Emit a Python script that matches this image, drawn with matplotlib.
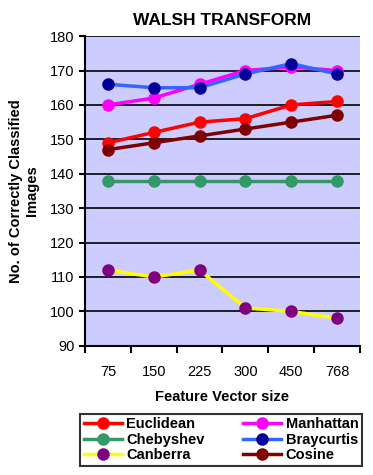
import matplotlib
matplotlib.use("Agg")
import matplotlib.pyplot as plt

plt.rcParams['font.family'] = ['Liberation Sans', 'DejaVu Sans']

categories = ["75", "150", "225", "300", "450", "768"]
euclidean = [149, 152, 155, 156, 160, 161]
manhattan = [160, 162, 166, 170, 171, 170]
chebyshev = [138, 138, 138, 138, 138, 138]
braycurtis = [166, 165, 165, 169, 172, 169]
canberra = [112, 110, 112, 101, 100, 98]
cosine = [147, 149, 151, 153, 155, 157]

series = [
    ("Euclidean", euclidean, "#FF0000", "#FF0000"),
    ("Manhattan", manhattan, "#FF00FF", "#FF00FF"),
    ("Chebyshev", chebyshev, "#339966", "#339966"),
    ("Braycurtis", braycurtis, "#3366FF", "#000099"),
    ("Canberra", canberra, "#FFFF00", "#800080"),
    ("Cosine", cosine, "#800000", "#800000"),
]

fig = plt.figure(figsize=(3.73, 4.75), dpi=100)
ax = fig.add_axes([0.228, 0.272, 0.737, 0.652])
ax.set_facecolor("#CCCCFF")
x = list(range(len(categories)))
handles = []
for name, vals, lc, mc in series:
    h, = ax.plot(x, vals, color=lc, lw=2.5, marker="o", markersize=8,
                 markerfacecolor=mc, markeredgecolor=mc, label=name, zorder=3)
    handles.append(h)

ax.set_ylim(90, 180)
ax.set_yticks(range(90, 181, 10))
ax.set_xlim(-0.5, 5.5)
ax.set_xticks([i - 0.5 for i in range(7)], minor=False)
ax.set_xticklabels([])
ax.set_xticks(x, minor=True)
ax.set_xticklabels(categories, minor=True, fontsize=10.5)
ax.tick_params(axis='x', which='minor', length=0, pad=14)
ax.tick_params(axis='x', which='major', length=5, width=1.5, direction='out')
ax.tick_params(axis='y', length=4, width=1.5, labelsize=10.5)
ax.yaxis.grid(True, color='black', lw=1.2)
ax.set_axisbelow(True)
for s in ['top', 'right']:
    ax.spines[s].set_visible(False)
ax.spines['left'].set_linewidth(1.5)
ax.spines['bottom'].set_linewidth(1.5)

ax.set_title("WALSH TRANSFORM", fontsize=12.5, fontweight='bold', pad=8)
ax.set_xlabel("Feature Vector size", fontsize=10.5, fontweight='bold', labelpad=8)
ax.set_ylabel("No. of Correctly Classified\nImages", fontsize=10.5, fontweight='bold', labelpad=8)

order = [handles[0], handles[2], handles[4], handles[1], handles[3], handles[5]]
leg = fig.legend(handles=order, labels=[h.get_label() for h in order], ncol=2,
                 loc='lower left', bbox_to_anchor=(0.195, 0.004, 0.795, 0.134),
                 mode='expand', frameon=True, fancybox=False,
                 edgecolor='black', handlelength=2.6, handletextpad=0.3,
                 borderpad=0.25, labelspacing=0.1, columnspacing=0.8,
                 prop={'weight': 'bold', 'size': 10.5})
leg.get_frame().set_linewidth(1.5)

fig.savefig("out.png", dpi=100)
